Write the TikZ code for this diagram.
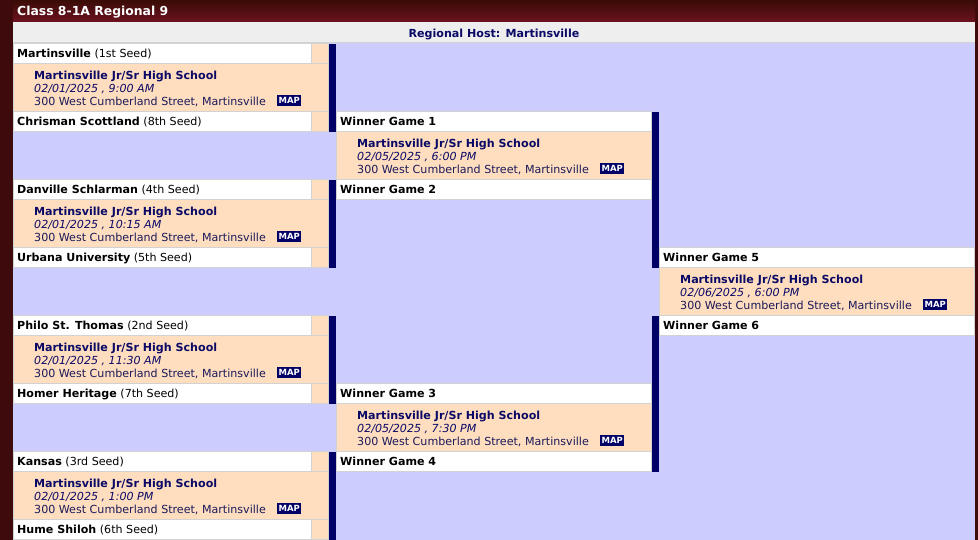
\documentclass[tikz,border=0pt]{standalone}
\usepackage{fontspec}
\setmainfont{DejaVu Sans}[BoldFont={DejaVu Sans Bold},ItalicFont={DejaVu Sans Oblique},BoldItalicFont={DejaVu Sans Bold Oblique}]
\definecolor{lav}{HTML}{CCCCFF}
\definecolor{peach}{HTML}{FFDDBF}
\definecolor{navybar}{HTML}{000066}
\definecolor{navytxt}{HTML}{0A0A66}
\definecolor{addrtxt}{HTML}{1A1A5A}
\definecolor{cellline}{HTML}{D2D2D2}
\definecolor{hostbg}{HTML}{EEEEEE}
\definecolor{edgered}{HTML}{3E0A0C}
\definecolor{hdtop}{HTML}{3A0C06}
\definecolor{hdbot}{HTML}{6C1220}
\newcommand\gblock[7]{%
  \filldraw[cellw] (#2,#3) rectangle (#4,#3+20);
  \filldraw[cellp] (#2,#3+20) rectangle (#4,#3+68);
  \filldraw[cellw] (#2,#3+68) rectangle (#4,#3+88);
  \node[teamtxt] (#1a) at (#2+3.5,#3+14.3) {#5};
  \node[schooltxt] (#1s) at (#2+20.5,#3+35.8) {Martinsville Jr/Sr High School};
  \node[datetxt] (#1d) at (#2+20.5,#3+48.8) {#6};
  \node[addrstyle] (#1l) at (#2+20.5,#3+61.8) {300 West Cumberland Street, Martinsville};
  \node[mapbox] (#1m) at (#2+263.5,#3+51.5) {MAP};
  \node[teamtxt] (#1b) at (#2+3.5,#3+82.3) {#7};
}
\newcommand\smallpeach[1]{%
  \filldraw[cellp] (311.5,#1) rectangle (328.5,#1+20);
  \filldraw[cellp] (311.5,#1+68) rectangle (328.5,#1+88);
}
\begin{document}
\begin{tikzpicture}[x=1pt,y=-1pt,
  cellw/.style={fill=white,draw=cellline,line width=1pt},
  cellp/.style={fill=peach,draw=cellline,line width=1pt},
  teamtxt/.style={anchor=base west,inner sep=0pt,text=black,font=\fontsize{11.1}{13}\selectfont},
  schooltxt/.style={anchor=base west,inner sep=0pt,text=navytxt,font=\fontsize{11.1}{13}\selectfont\bfseries},
  datetxt/.style={anchor=base west,inner sep=0pt,text=navytxt,font=\fontsize{11.1}{13}\selectfont\itshape},
  addrstyle/.style={anchor=base west,inner sep=0pt,text=addrtxt,font=\fontsize{11.1}{13}\selectfont},
  mapbox/.style={anchor=north west,fill=navybar,text=white,inner sep=0pt,minimum width=24pt,minimum height=11pt,font=\fontsize{8.5}{8.5}\selectfont\bfseries},
  bar/.style={fill=navybar}]
\useasboundingbox (0,0) rectangle (978,540);
% frame and background
\fill[edgered] (0,0) rectangle (978,540);
\shade[top color=hdtop,bottom color=hdbot] (13,0) rectangle (975,22);
\fill[hostbg] (13,22) rectangle (975,43);
\draw[cellline,line width=1pt] (13,42.5) -- (975,42.5);
\fill[lav] (13,43) rectangle (975,540);
\node[anchor=base west,inner sep=0pt,text=white,font=\fontsize{12.4}{14}\selectfont\bfseries] (title) at (17,15.3) {Class 8-1A Regional 9};
\node[anchor=base,inner sep=0pt,text=navytxt,font=\fontsize{11.1}{13}\selectfont\bfseries] (host) at (494,37.3) {Regional Host: Martinsville};
% column 1
\gblock{ga}{13.5}{43.5}{328.5}{\textbf{Martinsville} (1st Seed)}{02/01/2025 , 9:00 AM}{\textbf{Chrisman Scottland} (8th Seed)}
\gblock{gb}{13.5}{179.5}{328.5}{\textbf{Danville Schlarman} (4th Seed)}{02/01/2025 , 10:15 AM}{\textbf{Urbana University} (5th Seed)}
\gblock{gc}{13.5}{315.5}{328.5}{\textbf{Philo St. Thomas} (2nd Seed)}{02/01/2025 , 11:30 AM}{\textbf{Homer Heritage} (7th Seed)}
\gblock{gd}{13.5}{451.5}{328.5}{\textbf{Kansas} (3rd Seed)}{02/01/2025 , 1:00 PM}{\textbf{Hume Shiloh} (6th Seed)}
\smallpeach{43.5}\smallpeach{179.5}\smallpeach{315.5}\smallpeach{451.5}
\fill[bar] (329,44) rectangle (336,132);
\fill[bar] (329,180) rectangle (336,268);
\fill[bar] (329,316) rectangle (336,404);
\fill[bar] (329,452) rectangle (336,540);
% column 2
\gblock{ge}{336.5}{111.5}{651.5}{\textbf{Winner Game 1}}{02/05/2025 , 6:00 PM}{\textbf{Winner Game 2}}
\gblock{gf}{336.5}{383.5}{651.5}{\textbf{Winner Game 3}}{02/05/2025 , 7:30 PM}{\textbf{Winner Game 4}}
\fill[bar] (652,112) rectangle (659,268);
\fill[bar] (652,316) rectangle (659,472);
% column 3
\gblock{gg}{659.5}{247.5}{974.5}{\textbf{Winner Game 5}}{02/06/2025 , 6:00 PM}{\textbf{Winner Game 6}}
\end{tikzpicture}
\end{document}
